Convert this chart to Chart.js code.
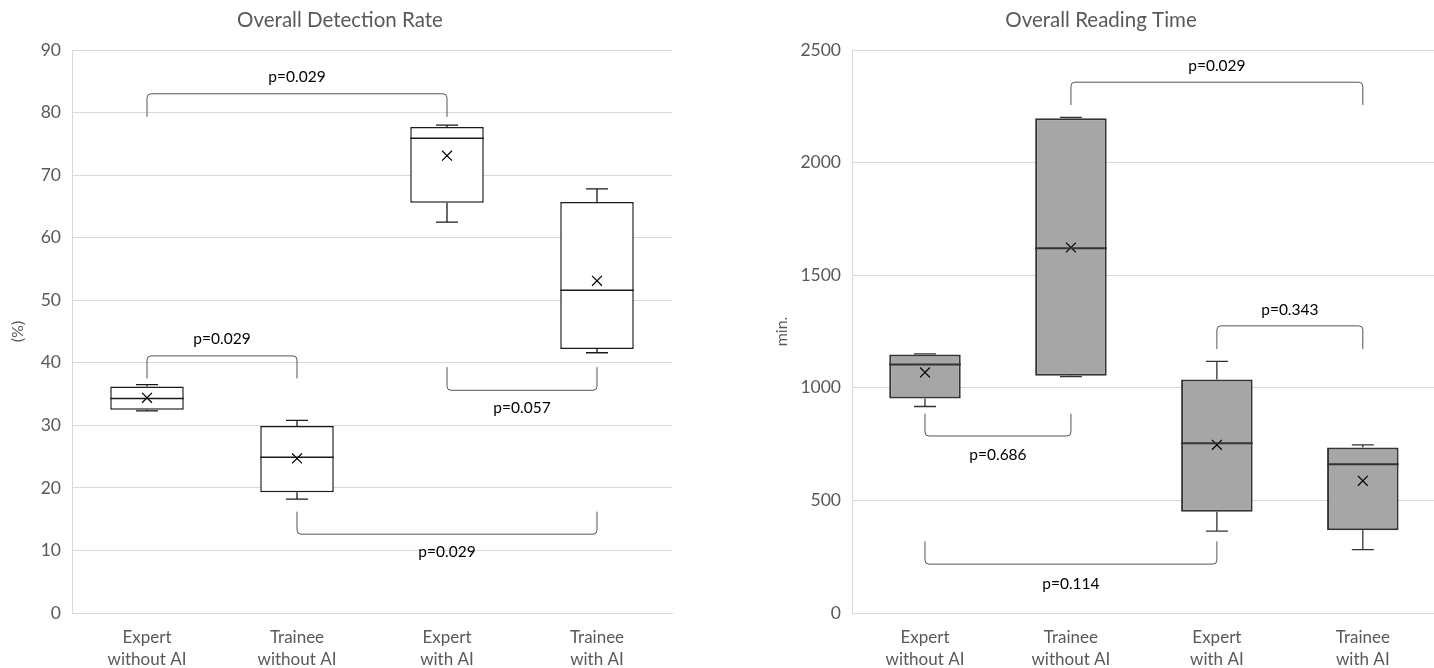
<!DOCTYPE html>
<html>
<head>
<meta charset="utf-8">
<script src="https://cdn.jsdelivr.net/npm/chart.js@4"></script>
<style>
  html, body { margin: 0; padding: 0; background: #fff; }
  body { width: 1434px; height: 668px; position: relative; overflow: hidden; }
  .panel { position: absolute; top: 0; height: 668px; }
  #leftPanel { left: 0; width: 700px; }
  #rightPanel { left: 720px; width: 724px; }
</style>
</head>
<body>
<div class="panel" id="leftPanel"><canvas id="rateChart"></canvas></div>
<div class="panel" id="rightPanel"><canvas id="timeChart"></canvas></div>
<script>
// categories shared by both panels
var categories = [['Expert', 'without AI'], ['Trainee', 'without AI'], ['Expert', 'with AI'], ['Trainee', 'with AI']];

// Overall Detection Rate (%)
var rateMin    = [32.3, 18.2, 62.5, 41.6];
var rateQ1     = [32.5, 19.3, 65.6, 42.2];
var rateMedian = [34.3, 24.9, 75.9, 51.6];
var rateQ3     = [36.2, 29.9, 77.7, 65.7];
var rateMax    = [36.5, 30.8, 78.0, 67.8];
var rateMean   = [34.4, 24.7, 73.1, 53.1];
var rateTicks  = [0, 10, 20, 30, 40, 50, 60, 70, 80, 90];

// significance brackets, detection rate
var rateBrFrom  = [0, 0, 2, 1];
var rateBrTo    = [2, 1, 3, 3];
var rateBrLeg   = [79.3, 37.5, 39.3, 16.2];
var rateBrBar   = [83.0, 41.1, 35.6, 12.6];
var rateBrText  = ['p=0.029', 'p=0.029', 'p=0.057', 'p=0.029'];
var rateBrTextY = [85.7, 43.8, 32.8, 9.7];

// Overall Reading Time (min.)
var timeMin    = [917, 1050, 364, 281];
var timeQ1     = [952, 1053, 450, 367];
var timeMedian = [1103, 1620, 754, 661];
var timeQ3     = [1148, 2197, 1037, 735];
var timeMax    = [1151, 2201, 1117, 747];
var timeMean   = [1068, 1623, 747, 587];
var timeTicks  = [0, 500, 1000, 1500, 2000, 2500];

// significance brackets, reading time
var timeBrFrom  = [1, 2, 0, 0];
var timeBrTo    = [3, 3, 1, 2];
var timeBrLeg   = [2256, 1172, 885, 318];
var timeBrBar   = [2357, 1275, 786, 217];
var timeBrText  = ['p=0.029', 'p=0.343', 'p=0.686', 'p=0.114'];
var timeBrTextY = [2430, 1346, 703, 130];

var FONT = 'Lato, "Open Sans", sans-serif';
var GREY = '#595959';
var GRID = '#d9d9d9';

// draws whiskers, medians, brackets and the chart title
var boxExtras = {
  id: 'boxExtras',
  afterDatasetsDraw: function(chart, args, o) {
    var ctx = chart.ctx, x = chart.scales.x, y = chart.scales.y;
    var bars = chart.getDatasetMeta(1).data;
    ctx.save();
    ctx.strokeStyle = o.boxColor;
    for (var i = 0; i < bars.length; i++) {
      var cx = x.getPixelForValue(i), hw = bars[i].width / 2;
      var yMin = y.getPixelForValue(o.min[i]), yMax = y.getPixelForValue(o.max[i]);
      var yQ1 = y.getPixelForValue(o.q1[i]), yQ3 = y.getPixelForValue(o.q3[i]);
      var yMed = y.getPixelForValue(o.median[i]);
      ctx.lineWidth = 1.3;
      ctx.beginPath();
      ctx.moveTo(cx, yQ3); ctx.lineTo(cx, yMax);
      ctx.moveTo(cx - 11, yMax); ctx.lineTo(cx + 11, yMax);
      ctx.moveTo(cx, yQ1); ctx.lineTo(cx, yMin);
      ctx.moveTo(cx - 11, yMin); ctx.lineTo(cx + 11, yMin);
      ctx.stroke();
      ctx.lineWidth = o.boxWidth;
      ctx.beginPath();
      ctx.moveTo(cx - hw, yMed); ctx.lineTo(cx + hw, yMed);
      ctx.stroke();
    }
    // brackets
    ctx.strokeStyle = '#555555';
    ctx.lineWidth = 1;
    ctx.fillStyle = '#000';
    ctx.font = '15.5px ' + FONT;
    ctx.textAlign = 'center';
    ctx.textBaseline = 'middle';
    for (var k = 0; k < o.brFrom.length; k++) {
      var x1 = x.getPixelForValue(o.brFrom[k]), x2 = x.getPixelForValue(o.brTo[k]);
      var yl = y.getPixelForValue(o.brLeg[k]), yb = y.getPixelForValue(o.brBar[k]);
      var r = 4 * Math.sign(yl - yb);
      ctx.beginPath();
      ctx.moveTo(x1, yl);
      ctx.lineTo(x1, yb + r);
      ctx.quadraticCurveTo(x1, yb, x1 + 4, yb);
      ctx.lineTo(x2 - 4, yb);
      ctx.quadraticCurveTo(x2, yb, x2, yb + r);
      ctx.lineTo(x2, yl);
      ctx.stroke();
      ctx.fillText(o.brText[k], (x1 + x2) / 2, y.getPixelForValue(o.brTextY[k]));
    }
    // title
    ctx.fillStyle = GREY;
    ctx.font = '20.5px ' + FONT;
    ctx.fillText(o.title, o.titleX, 20);
    ctx.restore();
  }
};

function makeChart(id, opts) {
  return new Chart(document.getElementById(id), {
    type: 'bar',
    data: {
      labels: categories,
      datasets: [
        {
          type: 'line', label: 'Mean', data: opts.mean, showLine: false,
          pointStyle: 'crossRot', pointRadius: 7, pointBorderColor: '#000',
          pointBorderWidth: 1.2, pointBackgroundColor: '#000', order: 0
        },
        {
          label: 'Box', data: opts.q1.map(function(q, i) { return [q, opts.q3[i]]; }),
          backgroundColor: opts.fill, borderColor: opts.boxColor, borderWidth: opts.boxWidth,
          borderSkipped: false, barPercentage: 0.49, categoryPercentage: 1, order: 1
        }
      ]
    },
    options: {
      responsive: true, maintainAspectRatio: false, animation: false,
      layout: { padding: opts.padding },
      plugins: {
        legend: { display: false },
        tooltip: { enabled: false },
        boxExtras: opts
      },
      scales: {
        x: {
          grid: { display: false },
          border: { display: true, color: GRID },
          ticks: { color: GREY, font: { family: FONT, size: 17, lineHeight: 1.3 }, padding: 5, maxRotation: 0 },
          afterFit: function(s) { s.height = 55; }
        },
        y: {
          min: 0, max: opts.ticks[opts.ticks.length - 1],
          afterBuildTicks: function(s) { s.ticks = opts.ticks.map(function(v) { return { value: v }; }); },
          grid: { color: GRID, drawTicks: false },
          border: { display: true, color: GRID },
          ticks: { color: GREY, font: { family: FONT, size: 17.5 }, padding: 11, callback: function(v) { return String(v); } },
          title: { display: true, text: opts.yTitle, color: GREY, font: { family: FONT, size: 16 } },
          afterFit: function(s) { s.width = opts.yWidth; }
        }
      }
    },
    plugins: [boxExtras]
  });
}

makeChart('rateChart', {
  min: rateMin, q1: rateQ1, median: rateMedian, q3: rateQ3, max: rateMax, mean: rateMean,
  ticks: rateTicks, brFrom: rateBrFrom, brTo: rateBrTo, brLeg: rateBrLeg, brBar: rateBrBar,
  brText: rateBrText, brTextY: rateBrTextY,
  fill: '#ffffff', boxColor: '#1a1a1a', boxWidth: 1.5,
  padding: { left: 4, right: 28, top: 50, bottom: 0 }, yWidth: 68, yTitle: '(%)',
  title: 'Overall Detection Rate', titleX: 340
});

makeChart('timeChart', {
  min: timeMin, q1: timeQ1, median: timeMedian, q3: timeQ3, max: timeMax, mean: timeMean,
  ticks: timeTicks, brFrom: timeBrFrom, brTo: timeBrTo, brLeg: timeBrLeg, brBar: timeBrBar,
  brText: timeBrText, brTextY: timeBrTextY,
  fill: '#a6a6a6', boxColor: '#333333', boxWidth: 2,
  padding: { left: 48, right: 0, top: 50, bottom: 0 }, yWidth: 84, yTitle: 'min.',
  title: 'Overall Reading Time', titleX: 381
});
</script>
</body>
</html>
